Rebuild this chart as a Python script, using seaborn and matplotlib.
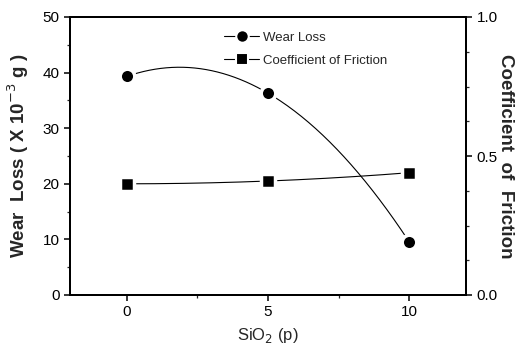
import numpy as np
import matplotlib
matplotlib.use("Agg")
import matplotlib.pyplot as plt
import seaborn as sns
from matplotlib.ticker import MultipleLocator
from matplotlib.lines import Line2D

sio2 = [0, 5, 10]
wear_loss = [39.3, 36.3, 9.5]
friction = [0.40, 0.41, 0.44]

sns.set_style("ticks")
plt.rcParams['font.family'] = ['Liberation Sans', 'DejaVu Sans']

fig = plt.figure(figsize=(5.31, 3.53), dpi=100)
ax = fig.add_axes([70/531, 1-295/353, 396/531, 278/353])
ax2 = ax.twinx()

# smooth curves through the points
xs = np.linspace(0, 10, 200)
cw = np.polyfit(sio2, wear_loss, 2)
cf = np.polyfit(sio2, friction, 2)
sns.lineplot(x=xs, y=np.polyval(cw, xs), ax=ax, color='black', lw=0.8)
sns.lineplot(x=xs, y=np.polyval(cf, xs), ax=ax2, color='black', lw=0.8)
sns.scatterplot(x=sio2, y=wear_loss, ax=ax, marker='o', s=110, color='black',
                edgecolor='white', linewidth=2.5, zorder=5)
sns.scatterplot(x=sio2, y=friction, ax=ax2, marker='s', s=90, color='black',
                edgecolor='white', linewidth=2.5, zorder=5)

ax.set_xlim(-2, 12)
ax.set_ylim(0, 50)
ax2.set_ylim(0, 1.0)
ax.set_xticks([0, 5, 10])
ax.xaxis.set_minor_locator(MultipleLocator(2.5))
ax.set_yticks([0, 10, 20, 30, 40, 50])
ax.yaxis.set_minor_locator(MultipleLocator(5))
ax2.set_yticks([0.0, 0.5, 1.0])
ax2.set_yticklabels(['0.0', '0.5', '1.0'])
ax2.yaxis.set_minor_locator(MultipleLocator(0.125))

for a in (ax, ax2):
    for s in a.spines.values():
        s.set_linewidth(1.4)
        s.set_color('black')
    a.tick_params(which='major', direction='out', length=4, width=1.1,
                  labelsize=11, colors='black')
    a.tick_params(which='minor', direction='out', length=2, width=0.9)

ax.set_xlabel('SiO$_2$ (p)', fontsize=12, labelpad=5)
ax.set_ylabel('Wear  Loss ( X 10$^{-3}$ g )', fontsize=13.5, labelpad=8,
              fontweight='bold')
ax2.set_ylabel('Coefficient  of  Friction', fontsize=13.5, rotation=-90,
               labelpad=12, fontweight='bold')

h1 = Line2D([], [], color='black', lw=0.8, marker='o', markersize=9,
            markeredgecolor='white', markeredgewidth=1.5)
h2 = Line2D([], [], color='black', lw=0.8, marker='s', markersize=8.5,
            markeredgecolor='white', markeredgewidth=1.5)
ax.legend([h1, h2], ['Wear Loss', 'Coefficient of Friction'], frameon=False,
          loc='upper left', bbox_to_anchor=(0.36, 0.99), fontsize=9.5,
          handlelength=2.6, handletextpad=0.3, labelspacing=0.8)

fig.savefig('out.png', dpi=100)
